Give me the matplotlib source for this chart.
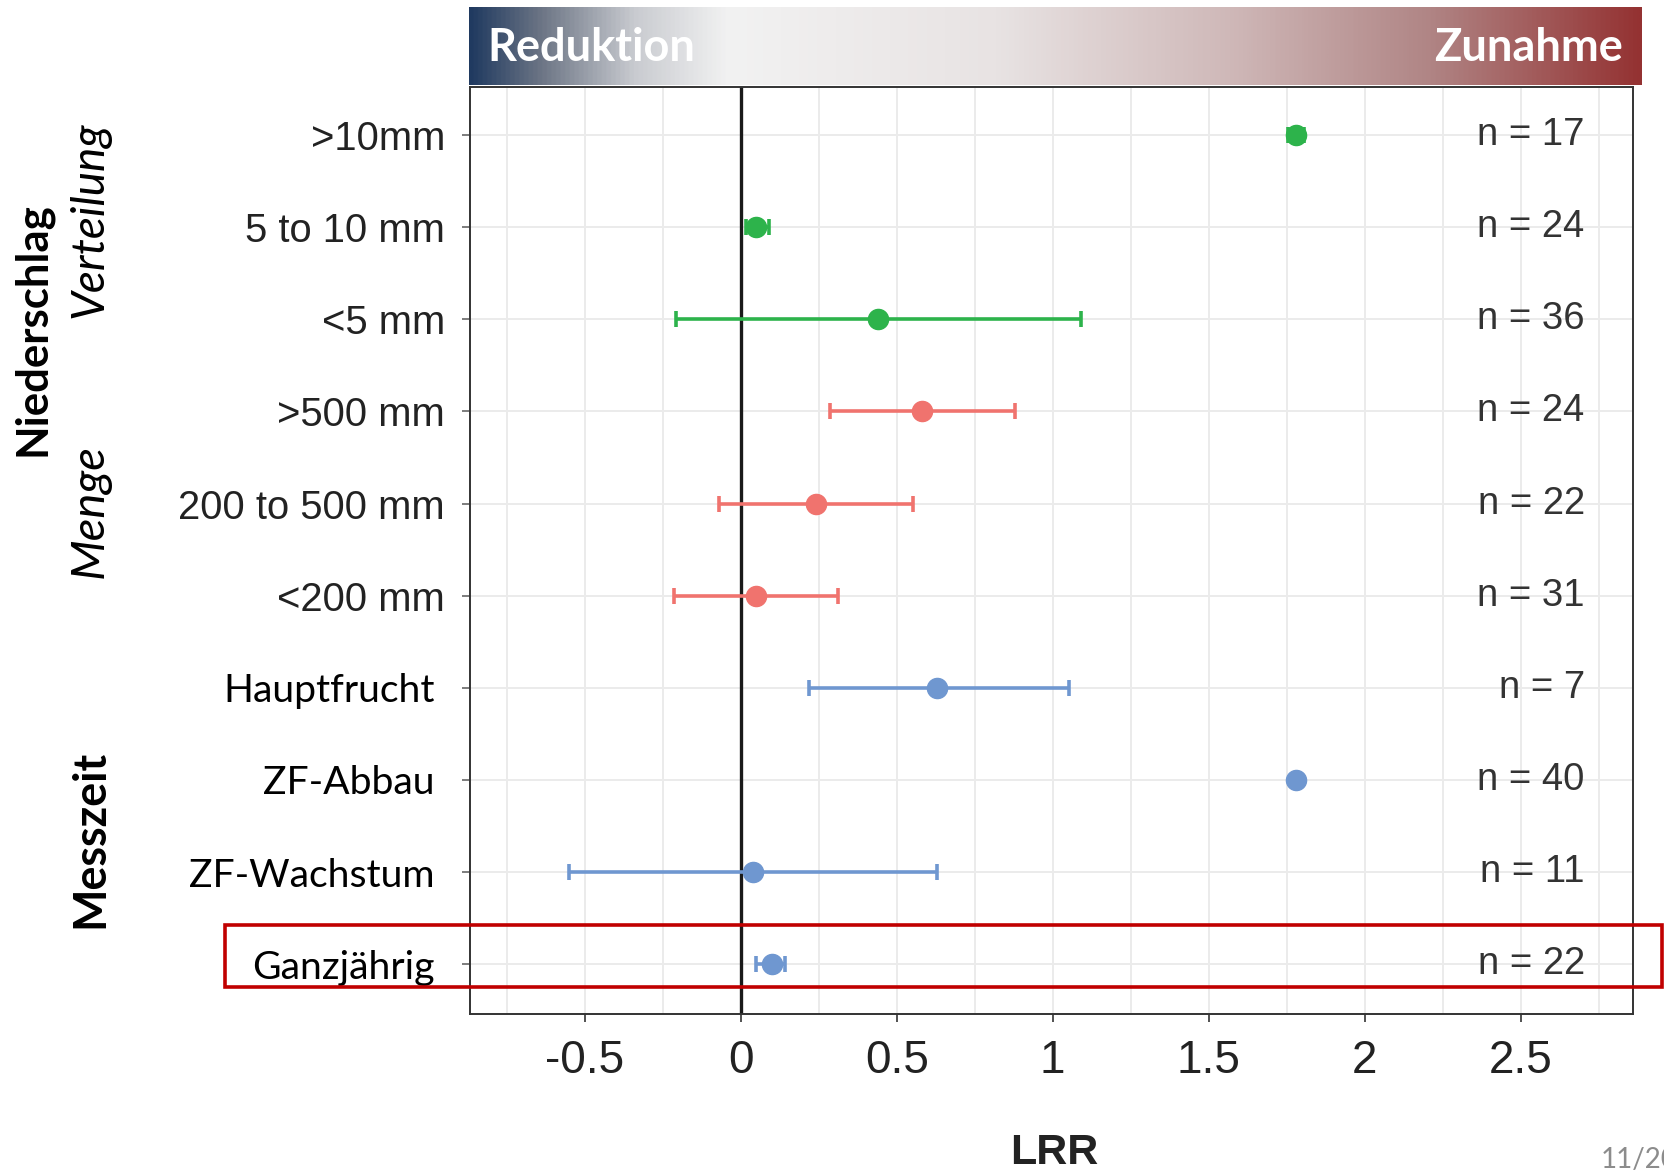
import numpy as np
import matplotlib
matplotlib.use("Agg")
import matplotlib.pyplot as plt
from matplotlib.colors import LinearSegmentedColormap
from matplotlib.patches import Rectangle
from matplotlib.transforms import ScaledTranslation

# ---------------- data ----------------
categories = [">10mm", "5 to 10 mm", "<5 mm", ">500 mm", "200 to 500 mm", "<200 mm",
              "Hauptfrucht", "ZF-Abbau", "ZF-Wachstum", "Ganzjährig"]
lrr = [1.78, 0.05, 0.44, 0.58, 0.24, 0.05, 0.63, 1.78, 0.04, 0.10]
ci_low = [1.755, 0.017, -0.207, 0.286, -0.071, -0.214, 0.218, 1.78, -0.551, 0.048]
ci_high = [1.805, 0.092, 1.092, 0.878, 0.551, 0.313, 1.051, 1.78, 0.629, 0.143]
n_obs = [17, 24, 36, 24, 22, 31, 7, 40, 11, 22]
groups = ["Verteilung", "Verteilung", "Verteilung", "Menge", "Menge", "Menge",
          "Messzeit", "Messzeit", "Messzeit", "Messzeit"]
x_ticks = [-0.5, 0, 0.5, 1, 1.5, 2, 2.5]
x_tick_labels = ["-0.5", "0", "0.5", "1", "1.5", "2", "2.5"]

group_colors = {"Verteilung": "#2db34b", "Menge": "#f0736e", "Messzeit": "#6f97d0"}
ARIAL = "Liberation Sans"
CALI = "Lato"

fig = plt.figure(figsize=(16.65, 11.70), dpi=100)
W, H = 1665, 1170

def fx(px):
    return px / W

def fy(py):
    return 1 - py / H

ax = fig.add_axes([fx(470), fy(1014), fx(1633) - fx(470), fy(87) - fy(1014)])

nrows = len(categories)
ypos = np.arange(nrows, 0, -1)

# grid
ax.set_xlim(-0.868, 2.86)
ax.set_ylim(0.46, nrows + 0.52)
ax.set_xticks(x_ticks)
ax.set_xticks(np.arange(-0.75, 2.9, 0.5), minor=True)
ax.grid(True, which="both", axis="x", color="#ebebeb", lw=1.4, zorder=0)
ax.grid(True, which="major", axis="y", color="#ebebeb", lw=1.4, zorder=0)
ax.set_axisbelow(True)
ax.axvline(0, color="#1a1a1a", lw=2.4, zorder=2)

for i in range(nrows):
    c = group_colors[groups[i]]
    ax.errorbar(lrr[i], ypos[i],
                xerr=[[lrr[i] - ci_low[i]], [ci_high[i] - lrr[i]]],
                fmt="o", color=c, ecolor=c, elinewidth=2.6, capsize=5.5, capthick=2.6,
                markersize=14.5, zorder=3)
    ax.text(2.705, ypos[i], f"n = {n_obs[i]}", ha="right", va="center",
            fontsize=27.5, family=ARIAL, color="#333333", zorder=4)

ax.set_xticklabels(x_tick_labels, fontsize=33, family=ARIAL, color="#222222")
ax.set_yticks(ypos)
ax.set_yticklabels(categories)
ax.tick_params(axis="x", which="major", length=6, width=1.2, color="#333333", pad=12)
ax.tick_params(axis="x", which="minor", length=0)
ax.tick_params(axis="y", length=6, width=1.2, color="#666666", pad=12)
for i, lab in enumerate(ax.get_yticklabels()):
    if i < 6:
        lab.set_fontfamily(ARIAL)
        lab.set_fontsize(28.8)
        lab.set_color("#222222")
    else:
        lab.set_fontfamily(CALI)
        lab.set_fontsize(28.2)
        lab.set_color("black")
        lab.set_transform(lab.get_transform() + ScaledTranslation(-10 / 100, 0, fig.dpi_scale_trans))

for s in ax.spines.values():
    s.set_color("#333333")
    s.set_linewidth(1.4)

# banner
bax = fig.add_axes([fx(469), fy(85), fx(1642) - fx(469), fy(7) - fy(85)])
cmap = LinearSegmentedColormap.from_list("banner", [
    (0.0, "#203a60"), (0.06, "#6c7585"), (0.14, "#c9cbd0"), (0.22, "#f2f2f2"),
    (0.45, "#e8e3e3"), (0.65, "#cfb8b8"), (0.82, "#b08585"), (1.0, "#943232")])
grad = np.linspace(0, 1, 512).reshape(1, -1)
bax.imshow(grad, aspect="auto", cmap=cmap, extent=[0, 1, 0, 1])
bax.set_axis_off()
bax.text(0.016, 0.47, "Reduktion", ha="left", va="center", color="white",
         fontsize=32.5, fontweight="bold", family=CALI, transform=bax.transAxes)
bax.text(0.984, 0.47, "Zunahme", ha="right", va="center", color="white",
         fontsize=32.5, fontweight="bold", family=CALI, transform=bax.transAxes)

# group labels
fig.text(fx(32), fy(329), "Niederschlag", rotation=90, ha="center", va="center",
         fontsize=31.5, fontweight="bold", family=CALI)
fig.text(fx(90), fy(220), "Verteilung", rotation=90, ha="center", va="center",
         fontsize=33, style="italic", family=CALI)
fig.text(fx(90), fy(511), "Menge", rotation=90, ha="center", va="center",
         fontsize=34, style="italic", family=CALI)
fig.text(fx(90), fy(839), "Messzeit", rotation=90, ha="center", va="center",
         fontsize=32.3, fontweight="bold", family=CALI)

# x label
fig.text(fx(1054), fy(1153), "LRR", ha="center", va="center", fontsize=31,
         fontweight="bold", family=ARIAL, color="#222222")
fig.text(fx(1601), fy(1147), "11/20", ha="left", va="top", fontsize=20,
         family=CALI, color="#8c8c8c")

# highlight box
fig.patches.append(Rectangle((fx(225), fy(987)), fx(1662) - fx(225), fy(925) - fy(987),
                             transform=fig.transFigure, fill=False, edgecolor="#c00000",
                             lw=2.6, zorder=10))

fig.savefig("out.png", dpi=100)
